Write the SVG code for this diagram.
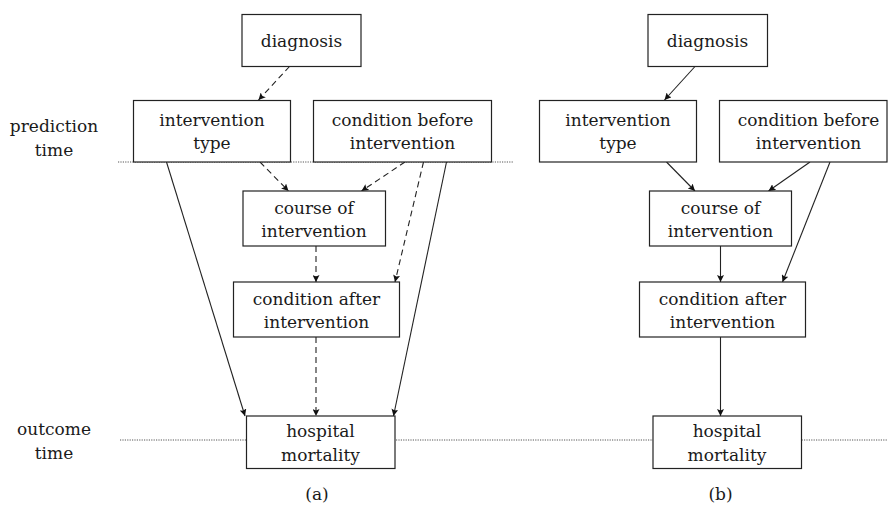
<svg xmlns="http://www.w3.org/2000/svg" width="888" height="507" viewBox="0 0 888 507" font-family="'DejaVu Serif', 'Liberation Serif', serif">
  <style>
    .box { fill: #fff; stroke: #222; stroke-width: 1.2; }
    .lbl { font-size: 17px; fill: #1a1a1a; text-anchor: middle; }
    .edge { fill: none; stroke: #222; stroke-width: 1.1; marker-end: url(#tip); }
    .dash { stroke-dasharray: 6 4; }
    .guide { fill: none; stroke: #555; stroke-width: 1; stroke-dasharray: 1.2 1.2; }
  </style>
  <defs>
    <marker id="tip" viewBox="0 0 10 10" refX="10" refY="5" markerWidth="7" markerHeight="7" markerUnits="userSpaceOnUse" orient="auto">
      <path d="M0,0 L10,5 L0,10 L2,5 Z" fill="#111"/>
    </marker>
  </defs>
  <rect width="888" height="507" fill="#fff"/>

  <!-- time guides -->
  <g id="guides">
    <line class="guide" x1="118" y1="162" x2="513" y2="162"/>
    <line class="guide" x1="120" y1="440" x2="888" y2="440"/>
    <text class="lbl" x="54" y="132">prediction</text>
    <text class="lbl" x="54" y="156">time</text>
    <text class="lbl" x="54" y="435">outcome</text>
    <text class="lbl" x="54" y="459">time</text>
  </g>

  <!-- connectors -->
  <g id="connectors">
    <!-- (a) -->
    <line class="edge dash" x1="289.5" y1="66.5" x2="258.5" y2="100"/>
    <line class="edge dash" x1="260" y1="162" x2="288.5" y2="191"/>
    <line class="edge dash" x1="405" y1="162" x2="361.5" y2="191"/>
    <line class="edge dash" x1="423.5" y1="162" x2="395" y2="282"/>
    <line class="edge dash" x1="316" y1="246" x2="316" y2="282"/>
    <line class="edge dash" x1="316" y1="337" x2="316" y2="416"/>
    <line class="edge" x1="166.5" y1="162" x2="245" y2="416"/>
    <line class="edge" x1="446.5" y1="162" x2="393.5" y2="416"/>
    <!-- (b) -->
    <line class="edge" x1="695" y1="66.5" x2="664.5" y2="100"/>
    <line class="edge" x1="666.5" y1="162" x2="695" y2="191"/>
    <line class="edge" x1="810" y1="162" x2="768.5" y2="191"/>
    <line class="edge" x1="830" y1="162" x2="782.5" y2="282"/>
    <line class="edge" x1="720.5" y1="246" x2="720.5" y2="282"/>
    <line class="edge" x1="720.5" y1="337" x2="720.5" y2="416"/>
  </g>

  <!-- (a) nodes -->
  <g id="a-diagnosis">
    <rect class="box" x="242" y="14.5" width="119" height="52"/>
    <text class="lbl" x="301.5" y="47">diagnosis</text>
  </g>
  <g id="a-intervention-type">
    <rect class="box" x="133.5" y="100.5" width="157" height="61.5"/>
    <text class="lbl" x="212" y="126">intervention</text>
    <text class="lbl" x="212" y="149">type</text>
  </g>
  <g id="a-condition-before">
    <rect class="box" x="313.5" y="100.5" width="178" height="61.5"/>
    <text class="lbl" x="402.5" y="126">condition before</text>
    <text class="lbl" x="402.5" y="149">intervention</text>
  </g>
  <g id="a-course">
    <rect class="box" x="243" y="191" width="142.5" height="55"/>
    <text class="lbl" x="314" y="214">course of</text>
    <text class="lbl" x="314" y="237">intervention</text>
  </g>
  <g id="a-condition-after">
    <rect class="box" x="233.5" y="282" width="166" height="55"/>
    <text class="lbl" x="316.5" y="305">condition after</text>
    <text class="lbl" x="316.5" y="328">intervention</text>
  </g>
  <g id="a-mortality">
    <rect class="box" x="246.5" y="416" width="148.5" height="52.5"/>
    <text class="lbl" x="320.5" y="437">hospital</text>
    <text class="lbl" x="320.5" y="461">mortality</text>
  </g>
  <text class="lbl" x="317" y="500">(a)</text>

  <!-- (b) nodes -->
  <g id="b-diagnosis">
    <rect class="box" x="648" y="14.5" width="119.5" height="52"/>
    <text class="lbl" x="707.5" y="47">diagnosis</text>
  </g>
  <g id="b-intervention-type">
    <rect class="box" x="539.5" y="100.5" width="157" height="61.5"/>
    <text class="lbl" x="618" y="126">intervention</text>
    <text class="lbl" x="618" y="149">type</text>
  </g>
  <g id="b-condition-before">
    <rect class="box" x="719.5" y="100.5" width="167.5" height="61.5"/>
    <text class="lbl" x="808.5" y="126">condition before</text>
    <text class="lbl" x="808.5" y="149">intervention</text>
  </g>
  <g id="b-course">
    <rect class="box" x="649.5" y="191" width="142" height="55"/>
    <text class="lbl" x="720.5" y="214">course of</text>
    <text class="lbl" x="720.5" y="237">intervention</text>
  </g>
  <g id="b-condition-after">
    <rect class="box" x="639.5" y="282" width="166" height="55"/>
    <text class="lbl" x="722.5" y="305">condition after</text>
    <text class="lbl" x="722.5" y="328">intervention</text>
  </g>
  <g id="b-mortality">
    <rect class="box" x="653" y="416" width="148.5" height="52.5"/>
    <text class="lbl" x="727" y="437">hospital</text>
    <text class="lbl" x="727" y="461">mortality</text>
  </g>
  <text class="lbl" x="720.5" y="500">(b)</text>
</svg>
